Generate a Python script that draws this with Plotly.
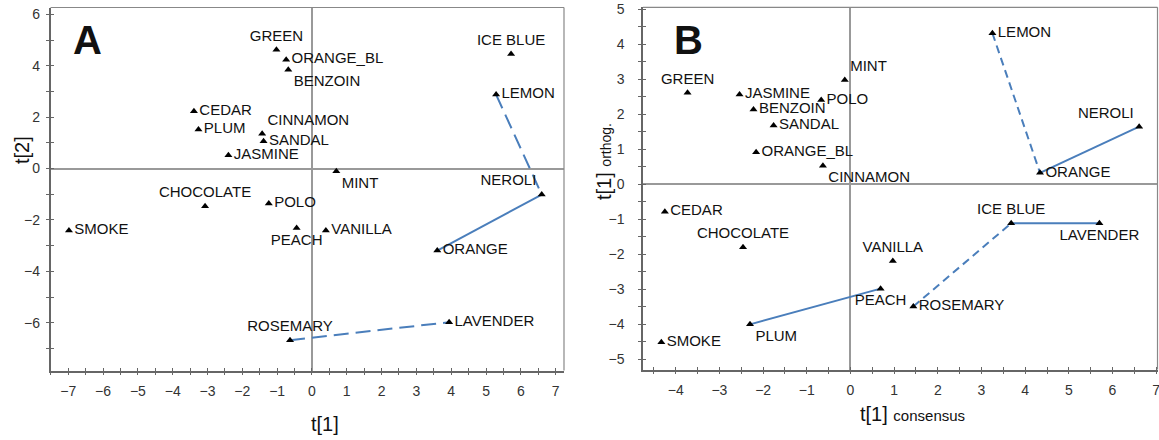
import plotly.graph_objects as go

# ---------------- data: panel A (t[1] vs t[2]) ----------------
names_a = ["GREEN", "ORANGE_BL", "BENZOIN", "ICE BLUE", "LEMON", "CEDAR", "PLUM",
           "CINNAMON", "SANDAL", "JASMINE", "MINT", "NEROLI", "CHOCOLATE", "POLO",
           "SMOKE", "PEACH", "VANILLA", "ORANGE", "LAVENDER", "ROSEMARY"]
t1_a = [-1.02, -0.74, -0.68, 5.72, 5.29, -3.39, -3.26, -1.43, -1.39, -2.40, 0.70,
        6.60, -3.07, -1.24, -6.98, -0.44, 0.40, 3.60, 3.94, -0.63]
t2_a = [4.63, 4.24, 3.85, 4.46, 2.88, 2.23, 1.52, 1.36, 1.06, 0.52, -0.10,
        -1.01, -1.47, -1.36, -2.41, -2.31, -2.41, -3.19, -5.98, -6.68]
pos_a = ["top center", "middle right", "bottom right", "top center", "middle right",
         "middle right", "middle right", "top right", "middle right", "middle right",
         "bottom right", "top left", "top center", "middle right", "middle right",
         "bottom center", "middle right", "middle right", "middle right", "top center"]
solid_a = [("NEROLI", "ORANGE")]
dashed_a = [("LEMON", "NEROLI"), ("ROSEMARY", "LAVENDER")]

# ---------------- data: panel B (t[1] consensus vs t[1] orthog.) ----------------
names_b = ["LEMON", "MINT", "GREEN", "JASMINE", "POLO", "BENZOIN", "SANDAL", "ORANGE_BL",
           "CINNAMON", "ORANGE", "NEROLI", "CEDAR", "CHOCOLATE", "VANILLA", "ICE BLUE",
           "LAVENDER", "PEACH", "ROSEMARY", "PLUM", "SMOKE"]
tc_b = [3.25, -0.13, -3.73, -2.54, -0.67, -2.22, -1.76, -2.16, -0.63, 4.34, 6.61,
        -4.25, -2.46, 0.97, 3.68, 5.70, 0.69, 1.44, -2.30, -4.33]
to_b = [4.31, 2.97, 2.61, 2.56, 2.40, 2.13, 1.67, 0.91, 0.52, 0.32, 1.64,
        -0.79, -1.81, -2.20, -1.12, -1.12, -2.99, -3.50, -4.01, -4.52]
pos_b = ["middle right", "top right", "top center", "middle right", "middle right",
         "middle right", "middle right", "middle right", "bottom right", "middle right",
         "top left", "middle right", "top center", "top center", "top center",
         "bottom center", "bottom center", "middle right", "bottom right", "middle right"]
solid_b = [("ORANGE", "NEROLI"), ("PLUM", "PEACH"), ("ICE BLUE", "LAVENDER")]
dashed_b = [("LEMON", "ORANGE"), ("ROSEMARY", "ICE BLUE")]

x_ticks_a = list(range(-7, 8))
y_ticks_a = [-6, -4, -2, 0, 2, 4, 6]
x_ticks_b = list(range(-4, 8))
y_ticks_b = list(range(-5, 6))

W, H = 1159, 440
LINE_BLUE = "#4a7ebb"
FONT = "Liberation Sans, Arial, sans-serif"

# plot-area boxes (pixels)
A_X = [50.5 / W, 564 / W]
A_Y = [1 - 370.5 / H, 1 - 7.5 / H]
B_X = [643 / W, 1157.5 / W]
B_Y = [1 - 369.5 / H, 1 - 7.3 / H]
RANGE_AX, RANGE_AY = [-7.51, 7.24], [-7.86, 6.27]
RANGE_BX, RANGE_BY = [-4.75, 7.03], [-5.3, 5.05]

fig = go.Figure()


def add_segments(names, xs, ys, pairs, dash, xa, ya):
    for a, b in pairs:
        i, j = names.index(a), names.index(b)
        fig.add_trace(go.Scatter(x=[xs[i], xs[j]], y=[ys[i], ys[j]], mode="lines",
                                 line=dict(color=LINE_BLUE, width=2, dash=dash),
                                 xaxis=xa, yaxis=ya, showlegend=False, hoverinfo="skip"))


add_segments(names_a, t1_a, t2_a, solid_a, "solid", "x", "y")
add_segments(names_a, t1_a, t2_a, dashed_a, "15px,7px", "x", "y")
add_segments(names_b, tc_b, to_b, solid_b, "solid", "x2", "y2")
add_segments(names_b, tc_b, to_b, dashed_b, "8px,5px", "x2", "y2")

fig.add_trace(go.Scatter(x=t1_a, y=t2_a, text=names_a, textposition=pos_a,
                         mode="markers+text", xaxis="x", yaxis="y", showlegend=False,
                         marker=dict(symbol="triangle-up", size=7, color="black"),
                         textfont=dict(family=FONT, size=15, color="#111")))
fig.add_trace(go.Scatter(x=tc_b, y=to_b, text=names_b, textposition=pos_b,
                         mode="markers+text", xaxis="x2", yaxis="y2", showlegend=False,
                         marker=dict(symbol="triangle-up", size=7, color="black"),
                         textfont=dict(family=FONT, size=15, color="#111")))

# dummy traces so the overlay axes (inside half of crossing ticks) exist
for xa, ya in (("x3", "y"), ("x", "y3"), ("x4", "y2"), ("x2", "y4")):
    fig.add_trace(go.Scatter(x=[None], y=[None], xaxis=xa, yaxis=ya, showlegend=False,
                             hoverinfo="skip"))

AX = dict(showgrid=False, showline=True, linecolor="#666", linewidth=1.5,
          ticks="outside", ticklen=3, tickcolor="#666", tickwidth=1,
          zeroline=True, zerolinecolor="#999", zerolinewidth=1.5, automargin=False,
          ticklabeloverflow="allow",
          tickfont=dict(family=FONT, size=14, color="#333"))
IN = dict(showgrid=False, showline=False, zeroline=False, showticklabels=False,
          ticks="inside", ticklen=3, tickcolor="#666", tickwidth=1, automargin=False)

fig.update_layout(
    width=W, height=H, margin=dict(l=0, r=0, t=0, b=0),
    paper_bgcolor="white", plot_bgcolor="white",
    xaxis=dict(AX, domain=A_X, range=RANGE_AX, anchor="y", tickvals=x_ticks_a,
               ticklabelstandoff=4,
               minor=dict(dtick=0.5, ticks="outside", ticklen=3, tickcolor="#666")),
    yaxis=dict(AX, domain=A_Y, range=RANGE_AY, anchor="x", tickvals=y_ticks_a,
               ticklabelstandoff=3,
               minor=dict(dtick=1, ticks="outside", ticklen=3, tickcolor="#666")),
    xaxis2=dict(AX, domain=B_X, range=RANGE_BX, anchor="y2", tickvals=x_ticks_b,
                ticklabelstandoff=4,
                minor=dict(dtick=0.5, ticks="outside", ticklen=3, tickcolor="#666")),
    yaxis2=dict(AX, domain=B_Y, range=RANGE_BY, anchor="x2", tickvals=y_ticks_b,
                ticklabelstandoff=11,
                minor=dict(dtick=0.5, ticks="outside", ticklen=3, tickcolor="#666")),
    xaxis3=dict(IN, domain=A_X, range=RANGE_AX, anchor="y", overlaying="x", tickvals=x_ticks_a,
                minor=dict(dtick=0.5, ticks="inside", ticklen=3, tickcolor="#666")),
    yaxis3=dict(IN, domain=A_Y, range=RANGE_AY, anchor="x", overlaying="y", tickvals=y_ticks_a,
                minor=dict(dtick=1, ticks="inside", ticklen=3, tickcolor="#666")),
    xaxis4=dict(IN, domain=B_X, range=RANGE_BX, anchor="y2", overlaying="x2", tickvals=x_ticks_b,
                minor=dict(dtick=0.5, ticks="inside", ticklen=3, tickcolor="#666")),
    yaxis4=dict(IN, domain=B_Y, range=RANGE_BY, anchor="x2", overlaying="y2", tickvals=y_ticks_b,
                minor=dict(dtick=0.5, ticks="inside", ticklen=3, tickcolor="#666")),
)

# top / right frame lines (lighter gray)
for xr, yr in (("x domain", "y domain"), ("x2 domain", "y2 domain")):
    fig.add_shape(type="line", xref=xr, yref=yr, x0=0, x1=1, y0=1, y1=1,
                  line=dict(color="#888", width=1.2))
    fig.add_shape(type="line", xref=xr, yref=yr, x0=1, x1=1, y0=0, y1=1,
                  line=dict(color="#888", width=1.2))


def note(text, px, py, size, angle=0):
    fig.add_annotation(text=text, xref="paper", yref="paper", x=px / W, y=1 - py / H,
                       xanchor="center", yanchor="middle", textangle=angle, showarrow=False,
                       font=dict(family=FONT, size=size, color="#111"))


# panel letters and axis titles
note("<b>A</b>", 87.5, 40, 40)
note("<b>B</b>", 688, 40, 40)
note("t[2]", 22, 150, 20, -90)
note("t[1]", 325, 424, 20)
note("t[1] <span style='font-size:14px'>orthog.</span>", 604, 162, 20, -90)
note("t[1] <span style='font-size:15px'>consensus</span>", 912, 414, 20)

fig.write_html("out.html", config={"displayModeBar": False},
               post_script="document.body.style.margin='0px';")
